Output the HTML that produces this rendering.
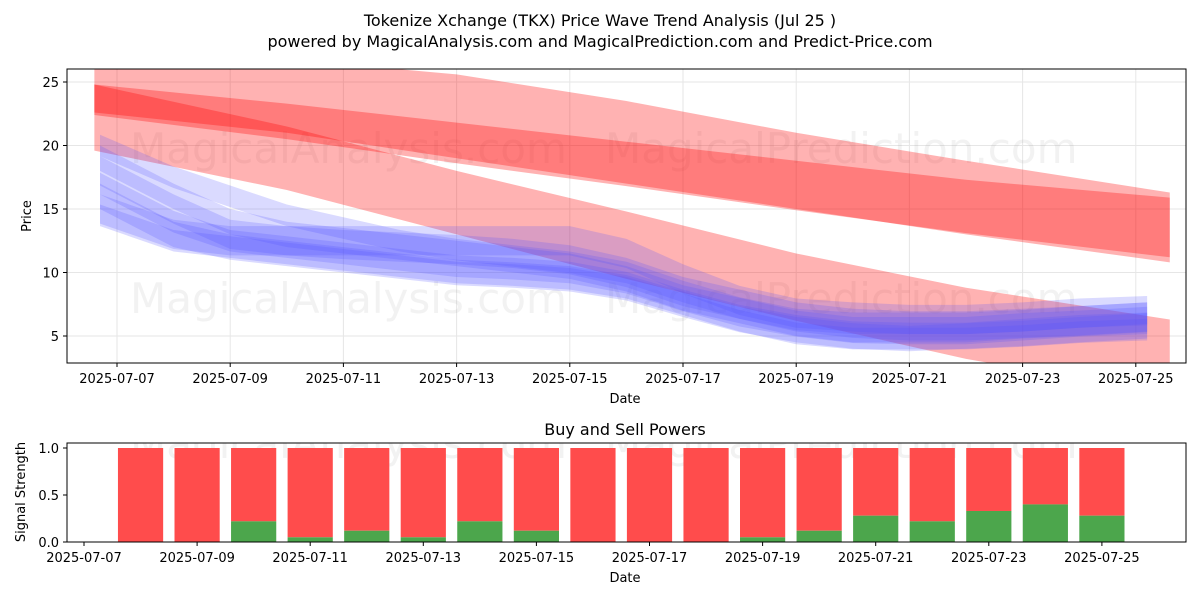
<!DOCTYPE html>
<html><head><meta charset="utf-8"><style>
body{margin:0;background:#fff;font-family:"Liberation Sans","DejaVu Sans",sans-serif}
svg text{font-family:"DejaVu Sans","Liberation Sans",sans-serif}
</style></head><body>
<svg id="c" width="1200" height="600" xmlns="http://www.w3.org/2000/svg">
<text x="600" y="26" text-anchor="middle" font-size="16">Tokenize Xchange (TKX) Price Wave Trend Analysis (Jul 25 )</text>
<text x="600" y="47" text-anchor="middle" font-size="16">powered by MagicalAnalysis.com and MagicalPrediction.com and Predict-Price.com</text>
<defs><clipPath id="cp1"><rect x="67" y="69" width="1119" height="294"/></clipPath><clipPath id="cp2"><rect x="67" y="443" width="1119" height="99"/></clipPath></defs>
<g id="topplot" clip-path="url(#cp1)"></g>
<g id="topaxes"></g>
<g id="botplot" clip-path="url(#cp2)"></g>
<g id="botaxes"></g>
</svg>
<script>
const blueDays=[6.7,8,9,10,11,12,13,14,15,16,17,18,19,20,21,22,23,24,25.2];
const blue1=[20,17.5,16,14.5,13.5,12.5,11.8,11.3,10.8,10,8.5,7.2,6.3,6,6,6,6.2,6.5,6.8];
const blue2=[19,16,14,13,12.5,12,11.5,11,10.5,9.5,8,7,6,5.5,5.5,5.5,5.8,6,6.3];
const blue3=[18,15,13,12.5,12.2,12,11.8,11.5,11,10,8.5,7.5,6.5,6,5.8,5.8,6,6.2,6.5];
const blue4=[17,14,12.5,12,11.5,11,10.5,10.3,10,9.2,7.8,6.6,5.8,5.3,5.2,5.2,5.5,5.8,6];
const blue5=[16,13,12,11.5,11,10.5,10,9.8,9.5,8.8,7.5,6.3,5.5,5,4.8,5,5.2,5.5,5.8];
const blue6=[15,13,12.5,12.5,12.5,12.5,12.5,12.5,12.5,11.5,9.5,7.8,6.8,6.5,6.3,6.3,6.5,6.8,7];
const blue7=[14.5,12.5,12,11.5,11,10.5,10,9.8,9.5,8.8,7.5,6.2,5.2,4.8,4.8,4.8,5,5.3,5.5];
const redDays=[6.6,10,13,16,19,22,25.6];
const redAtop=[27.5,26.8,25.6,23.5,21,18.8,16.3];
const redAbot=[22.6,21,19,17,15,13,10.8];
const redBtop=[24.8,23.3,21.8,20.3,18.8,17.3,15.9];
const redBbot=[22.4,20.5,18.6,16.8,14.9,13.1,11.2];
const redCtop=[24.8,21.5,18,14.8,11.5,8.8,6.3];
const redCbot=[19.6,16.5,13,9.5,6.2,3.2,0.4];
const buyDays=[8,9,10,11,12,13,14,15,16,17,18,19,20,21,22,23,24,25];
const buyVals=[0,0,0.22,0.05,0.12,0.05,0.22,0.12,0,0,0,0.05,0.12,0.28,0.22,0.33,0.4,0.28];
const priceTicks=[5,10,15,20,25];
const sigTicks=[0,0.5,1.0];
const dateTicks=[7,9,11,13,15,17,19,21,23,25];

const NS="http://www.w3.org/2000/svg";
function el(p,t,a){const e=document.createElementNS(NS,t);for(const k in a)e.setAttribute(k,a[k]);p.appendChild(e);return e;}
const xT=d=>117+(d-7)*56.6, yT=v=>82+(25-v)*12.7;
const xB=d=>84+(d-7)*56.55, yB=v=>542-v*94;
const gTop=document.getElementById('topplot'),gTopAxes=document.getElementById('topaxes'),gBot=document.getElementById('botplot'),gBotAxes=document.getElementById('botaxes');
priceTicks.forEach(v=>{const l=el(gTop,'line',{x1:67,x2:1186,y1:yT(v),y2:yT(v),stroke:'#e6e6e6'});

});
dateTicks.forEach(d=>{const l=el(gTop,'line',{x1:xT(d),x2:xT(d),y1:69,y2:363,stroke:'#e6e6e6'});

});
[[130,163,'MagicalAnalysis.com'],[605,163,'MagicalPrediction.com'],[130,313,'MagicalAnalysis.com'],[605,313,'MagicalPrediction.com']].forEach(w=>{const tx=el(gTop,'text',{x:w[0],y:w[1],'font-size':42,fill:'rgba(128,128,128,0.1)'});tx.textContent=w[2];

});
function band(g,days,tops,bots,fill,xf,yf,name){let d='M';days.forEach((x,i)=>d+=xf(x)+','+yf(tops[i])+' L');for(let i=days.length-1;i>=0;i--)d+=xf(days[i])+','+yf(bots[i])+(i?' L':' Z');
const p=el(g,'path',{d:d,fill:fill});

}
band(gTop,redDays,redAtop,redAbot,'rgba(255,0,0,0.3)',xT,yT,'red-band-upper');
band(gTop,redDays,redBtop,redBbot,'rgba(255,0,0,0.3)',xT,yT,'red-band-middle');
band(gTop,redDays,redCtop,redCbot,'rgba(255,0,0,0.3)',xT,yT,'red-band-lower');
[blue1,blue2,blue3,blue4,blue5,blue6,blue7].forEach((s,i)=>{
 const hw=0.85+0.15*(i%3);
 band(gTop,blueDays,s.map(v=>v+hw),s.map(v=>v-hw),'rgba(80,80,255,0.21)',xT,yT,'blue-band-'+(i+1));
});
el(gTopAxes,'rect',{x:67,y:69,width:1119,height:294,fill:'none',stroke:'#000','stroke-width':1});
priceTicks.forEach(v=>{el(gTopAxes,'line',{x1:63,x2:67,y1:yT(v),y2:yT(v),stroke:'#000'});const tx=el(gTopAxes,'text',{x:59,y:yT(v)+5,'text-anchor':'end','font-size':13});tx.textContent=v;

});
const fmt=d=>'2025-07-'+String(d).padStart(2,'0');
dateTicks.forEach(d=>{el(gTopAxes,'line',{x1:xT(d),x2:xT(d),y1:363,y2:367,stroke:'#000'});const tx=el(gTopAxes,'text',{x:xT(d),y:383,'text-anchor':'middle','font-size':13});tx.textContent=fmt(d);

});
let lbl=el(gTopAxes,'text',{x:625,y:403,'text-anchor':'middle','font-size':13});lbl.textContent='Date';


lbl=el(gTopAxes,'text',{x:31,y:216,'text-anchor':'middle','font-size':13,transform:'rotate(-90 31 216)'});lbl.textContent='Price';


[[130,458,'MagicalAnalysis.com'],[605,458,'MagicalPrediction.com']].forEach(w=>{const tx=el(gBot,'text',{x:w[0],y:w[1],'font-size':42,fill:'rgba(128,128,128,0.1)'});tx.textContent=w[2];

});
buyDays.forEach((d,i)=>{const g=buyVals[i];
 const r=el(gBot,'rect',{x:xB(d)-22.6,y:yB(1),width:45.2,height:yB(g)-yB(1),fill:'#ff4c4c'});
 
 
 const gr=el(gBot,'rect',{x:xB(d)-22.6,y:yB(g),width:45.2,height:yB(0)-yB(g),fill:'#4ca64c'});
 
 });
el(gBotAxes,'rect',{x:67,y:443,width:1119,height:99,fill:'none',stroke:'#000'});
sigTicks.forEach(v=>{el(gBotAxes,'line',{x1:63,x2:67,y1:yB(v),y2:yB(v),stroke:'#000'});const tx=el(gBotAxes,'text',{x:59,y:yB(v)+5,'text-anchor':'end','font-size':13});tx.textContent=v.toFixed(1);

});
dateTicks.forEach(d=>{el(gBotAxes,'line',{x1:xB(d),x2:xB(d),y1:542,y2:546,stroke:'#000'});const tx=el(gBotAxes,'text',{x:xB(d),y:562,'text-anchor':'middle','font-size':13});tx.textContent=fmt(d);

});
lbl=el(gBotAxes,'text',{x:625,y:582,'text-anchor':'middle','font-size':13});lbl.textContent='Date';


lbl=el(gBotAxes,'text',{x:625,y:435,'text-anchor':'middle','font-size':16});lbl.textContent='Buy and Sell Powers';


lbl=el(gBotAxes,'text',{x:25,y:492,'text-anchor':'middle','font-size':13,transform:'rotate(-90 25 492)'});lbl.textContent='Signal Strength';


</script>
</body></html>
